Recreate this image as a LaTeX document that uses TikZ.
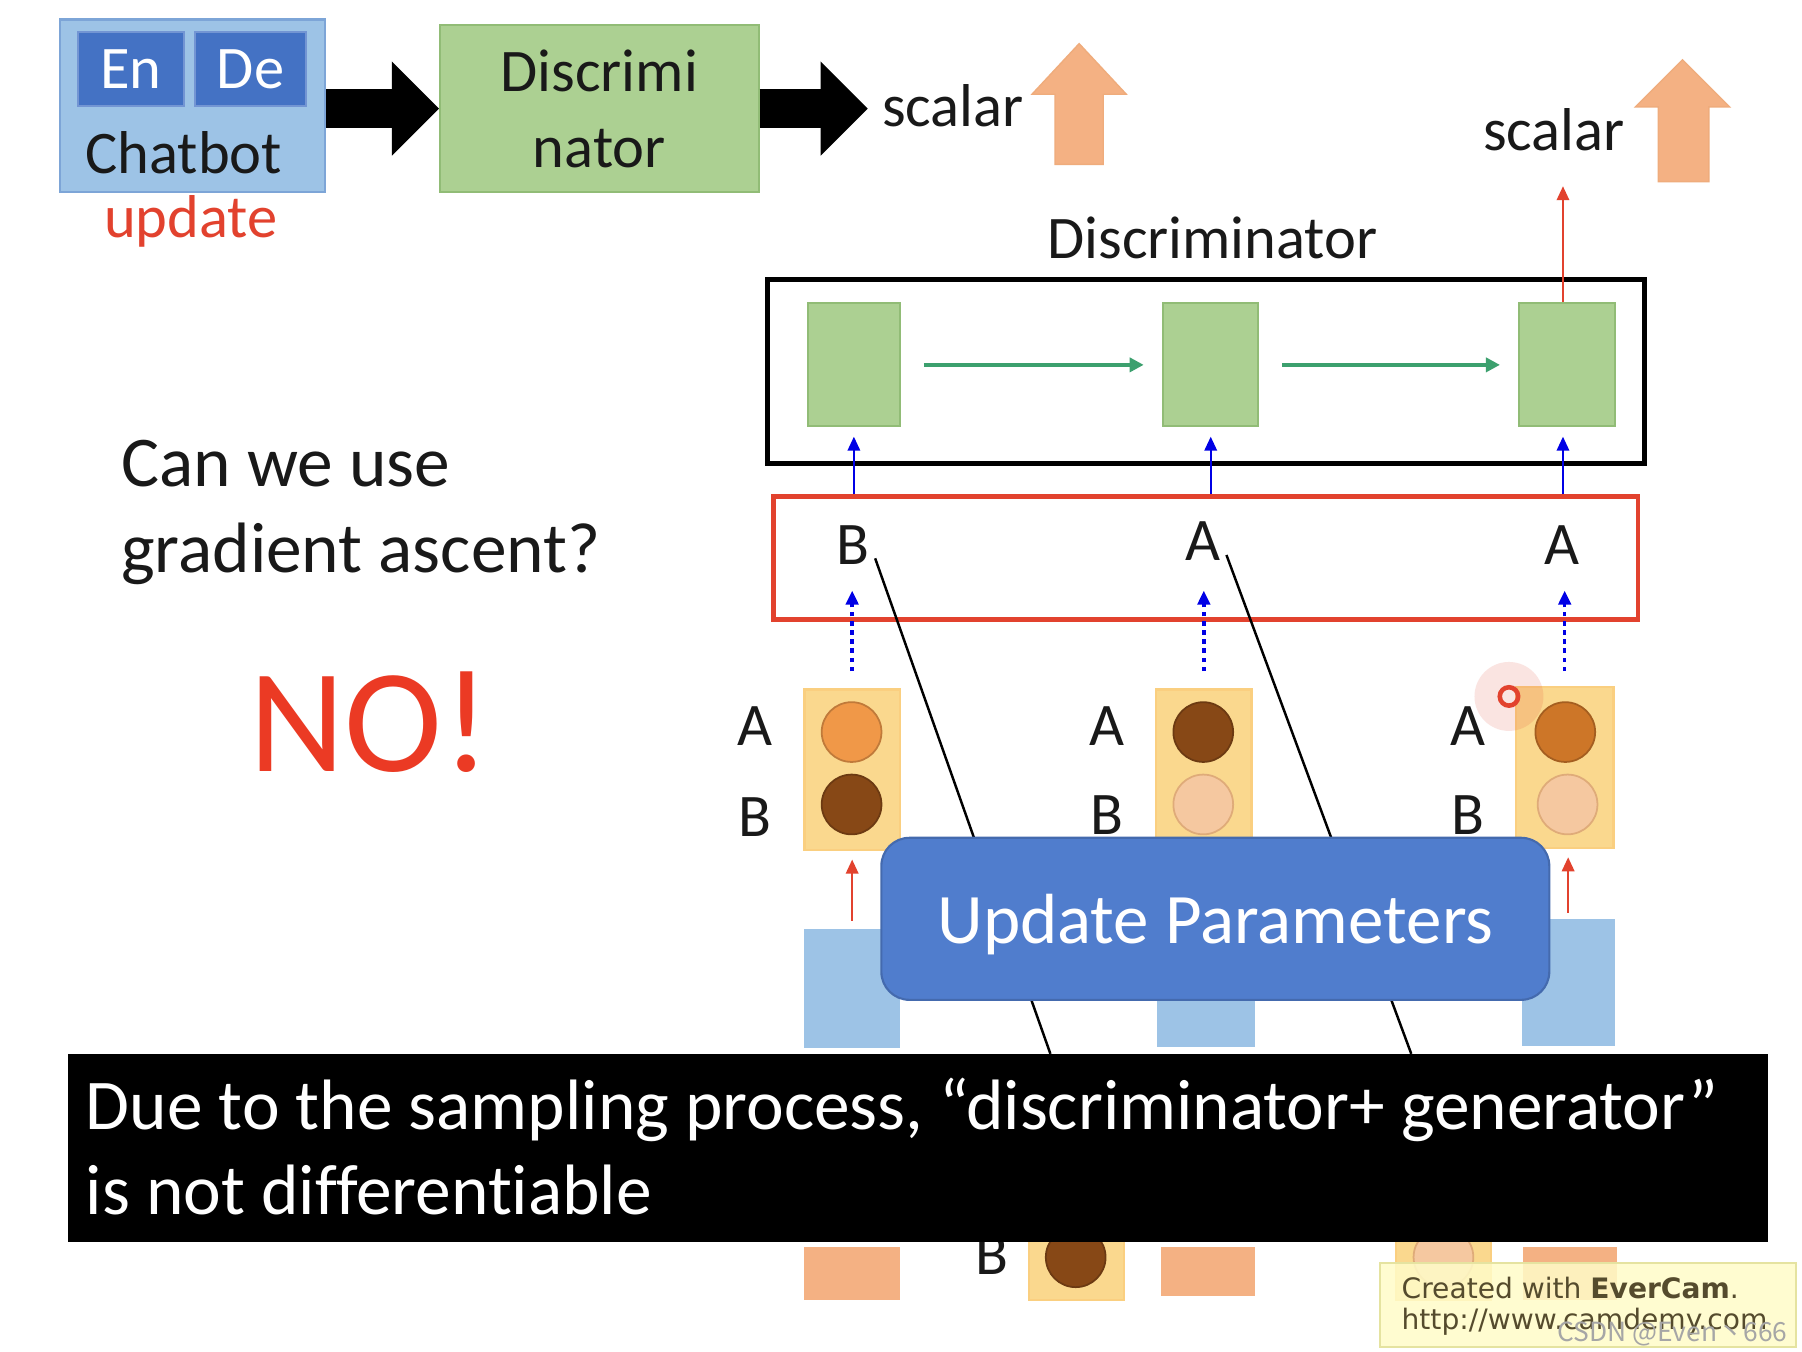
\documentclass[tikz,border=0pt]{standalone}
\usepackage{fontspec}
\setmainfont{Carlito}[Ligatures=NoCommon]
\newfontfamily\camfont{DejaVu Sans}
\newfontfamily\cjkfont{Noto Sans CJK SC}
\usetikzlibrary{arrows.meta,positioning,fit,calc}

\definecolor{txt}{RGB}{25,25,25}
\definecolor{chatblue}{RGB}{157,195,230}
\definecolor{chatedge}{RGB}{125,165,215}
\definecolor{endeblue}{RGB}{68,114,196}
\definecolor{discgreen}{RGB}{172,208,146}
\definecolor{discedge}{RGB}{145,188,118}
\definecolor{peach}{RGB}{244,177,131}
\definecolor{sampyel}{RGB}{250,216,142}
\definecolor{ballorange}{RGB}{240,152,72}
\definecolor{ballbrown}{RGB}{135,72,22}
\definecolor{ballmid}{RGB}{205,118,40}
\definecolor{ballpale}{RGB}{245,200,160}
\definecolor{slidered}{RGB}{226,66,46}
\definecolor{nored}{RGB}{235,58,36}
\definecolor{arrgreen}{RGB}{60,160,110}
\definecolor{updblue}{RGB}{80,125,205}
\definecolor{camyel}{RGB}{255,252,200}
\definecolor{camtxt}{RGB}{85,75,45}

\begin{document}
\begin{tikzpicture}[
    x=0.0114923cm, y=-0.0114923cm,
    every node/.style={font=\fontsize{17.2}{21}\selectfont, text=txt},
    box/.style={inner sep=0pt, line width=0.6pt},
    cell/.style={box, fill=discgreen, draw=discedge},
    sampbox/.style={box, fill=sampyel, draw=sampyel!90!orange},
    ball/.style={circle, minimum size=17pt, inner sep=0pt, line width=0.5pt},
    blockarr/.style={line width=11.1pt, -{Triangle[length=13.4pt, width=26.8pt, line width=0pt]}},
    garr/.style={arrgreen, line width=1pt, -{Triangle[length=4pt, width=4pt]}, shorten <=6.5pt, shorten >=5.2pt},
    barr/.style={blue!90!black, line width=0.7pt, -{Triangle[length=4pt, width=3.5pt]}},
    darr/.style={barr, line width=1pt, dash pattern=on 1.3pt off 1.3pt},
    rarr/.style={slidered, line width=0.7pt, -{Triangle[length=4pt, width=3.5pt]}},
]
    \useasboundingbox[fill=white] (0,0) rectangle (1568,1176);

    % Chatbot
    \node[box, fill=chatblue, draw=chatedge, fit={(52,17)(283,167)}] (chat) {};
    \node[box, fill=endeblue, draw=endeblue!75!white, text=white, minimum width=30.1pt, minimum height=20.9pt] (en) at (114,60) {En};
    \node[box, fill=endeblue, draw=endeblue!75!white, text=white, minimum width=31.4pt, minimum height=20.9pt] (de) at (218,60) {De};
    \node (chatlbl) at (160,133) {Chatbot};
    \node[text=slidered] (upd) at (166,193) {update};

    % Discriminator (top)
    \node[box, fill=discgreen, draw=discedge, align=center, font=\fontsize{17.2}{21.6}\selectfont, minimum width=90.6pt, minimum height=47.4pt] (disc) at (521.5,94.5) {Discrimi\\nator};
    \node[anchor=west, inner sep=0pt] (sc1) at (767,92) {scalar};
    \draw[blockarr] (chat.east |- disc.west) -- (disc.west);
    \draw[blockarr] (disc.east) -- ($(disc.east -| sc1.west)+(-12,0)$);
    \fill[peach, draw=peach!90!brown, line width=0.4pt] (918,143) -- (918,82) -- (898,82) -- (939,38) -- (980,82) -- (960,82) -- (960,143) -- cycle;

    % Question
    \node[anchor=base west, align=left, inner sep=0pt, font=\fontsize{20.3}{24.5}\selectfont] (ask) at (105,498) {Can we use\\gradient ascent?};
    \node[text=nored, font=\fontsize{42}{50}\selectfont] (no) at (322,628) {NO!};

    % Discriminator (unrolled)
    \node (dlbl) at (1055,207) {Discriminator};
    \node[anchor=west, inner sep=0pt] (sc2) at (1290,113) {scalar};
    \fill[peach, draw=peach!90!brown, line width=0.4pt] (1443,158) -- (1443,93) -- (1423,93) -- (1464,52) -- (1505,93) -- (1487,93) -- (1487,158) -- cycle;
    \node[box, draw=black, line width=1.4pt, fit={(668,243)(1431,403)}] (dbox) {};
    \node[cell, fit={(703,264)(783,371)}] (g1) {};
    \node[cell, fit={(1012,264)(1095,371)}] (g2) {};
    \node[cell, fit={(1322,264)(1405,371)}] (g3) {};
    \draw[garr] (g1) -- (g2);
    \draw[garr] (g2) -- (g3);
    \coordinate (out) at (1360,162);
    \draw[rarr] (g3.north -| out) -- (out);

    % Sampled tokens
    \node[box, draw=slidered, line width=1.2pt, fit={(673,432)(1425,539)}] (rbox) {};
    \node (s1) at (742,474) {B};
    \node (s2) at (1047,471) {A};
    \node (s3) at (1359,474) {A};
    \draw[barr] (g1.south |- rbox.north) -- ($(g1.south)+(0,8)$);
    \draw[barr] (g2.south |- rbox.north) -- ($(g2.south)+(0,8)$);
    \draw[barr] (out |- rbox.north) -- ($(out |- g3.south)+(0,8)$);

    % Generator outputs
    \node[box, fill=chatblue, fit={(700,808)(783,912)}] (h1) {};
    \node[box, fill=chatblue, fit={(1007,806)(1092,911)}] (h2) {};
    \node[box, fill=chatblue, fit={(1324,800)(1405,910)}] (h3) {};
    \node[sampbox, fit={(700,600)(783,740)}] (y1) {};
    \node[sampbox, fit={(1006,600)(1089,738)}] (y2) {};
    \node[sampbox, fit={(1319,598)(1404,738)}] (y3) {};
    \node[ball, fill=ballorange, draw=ballorange!80!black] (a1) at (741,637) {};
    \node[ball, fill=ballbrown, draw=ballbrown!80!black] (b1) at (741,700) {};
    \node[ball, fill=ballbrown, draw=ballbrown!80!black] (a2) at (1047,637) {};
    \node[ball, fill=ballpale, draw=ballpale!60!brown] (b2) at (1047,700) {};
    \node[ball, fill=ballmid, draw=ballmid!80!black] (a3) at (1362,637) {};
    \node[ball, fill=ballpale, draw=ballpale!60!brown] (b3) at (1364,700) {};
    \node (la1) at (657,632) {A};
    \node (lb1) at (657,711) {B};
    \node (la2) at (963,632) {A};
    \node (lb2) at (963,709) {B};
    \node (la3) at (1277,632) {A};
    \node (lb3) at (1277,709) {B};
    \draw[darr] ($(y1.north)+(0,-15)$) -- ($(y1.north |- rbox.south)+(0,-27)$);
    \draw[darr] ($(y2.north)+(0,-15)$) -- ($(y2.north |- rbox.south)+(0,-27)$);
    \draw[darr] ($(y3.north)+(0,-13)$) -- ($(y3.north |- rbox.south)+(0,-27)$);
    \draw[rarr] ($(h1.north)+(0,-6)$) -- ($(h1.north |- y1.south)+(0,7)$);
    \draw[rarr] ($(h3.north)+(0,-5)$) -- ($(h3.north |- y3.south)+(0,7)$);

    % cursor
    \fill[slidered, opacity=0.14] (1313,606) circle (30);
    \draw[slidered, line width=1.3pt] (1313,606) circle (8);

    % Next step
    \node[box, fill=peach, fit={(700,1085)(783,1131)}] (p1) {};
    \node[sampbox, fit={(895,1060)(978,1131)}] (y4) {};
    \node[ball, fill=ballbrown, draw=ballbrown!80!black] (b4) at (936,1094) {};
    \node (lb4) at (863,1092) {B};
    \node[box, fill=peach, fit={(1010,1085)(1092,1128)}] (p2) {};
    \node[sampbox, fit={(1215,1060)(1297,1131)}] (y5) {};
    \node[ball, fill=ballpale, draw=ballpale!60!brown] (b5) at (1256,1094) {};
    \node[box, fill=peach, fit={(1325,1085)(1407,1131)}] (p3) {};

    \coordinate (t1) at (914,917);
    \coordinate (t2) at (1228,917);
    \draw[line width=0.7pt, shorten <=-5.5pt] (s1.south east) -- (t1);
    \draw[line width=0.7pt, shorten <=-5.5pt] (s2.south east) -- (t2);

    % Update Parameters
    \node[box, fill=updblue, draw=updblue!85!black, rounded corners=8pt, text=white, text depth=0pt, font=\fontsize{20.2}{24}\selectfont, minimum width=190pt, minimum height=46.1pt] (updp) at (1057.5,799.5) {Update Parameters};

    % Caption bar
    \node[box, fill=black, fit={(59,917)(1538,1081)}] (bar) {};
    \node[anchor=base west, align=left, inner sep=0pt, text=white, font=\fontsize{20.3}{24.2}\selectfont] (bartxt) at (74,1057) {Due to the sampling process, “discriminator+ generator”\\is not differentiable};

    % watermarks
    \node[box, fill=camyel, fill opacity=0.85, draw=camyel!80!olive, fit={(1201,1099)(1563,1172)}] (cam) {};
    \node[anchor=west, inner sep=0pt, text=camtxt, font=\camfont\fontsize{8}{9}\selectfont] (cam1) at (1219,1121) {Created with \textbf{EverCam}.};
    \node[anchor=west, inner sep=0pt, text=camtxt, font=\camfont\fontsize{8}{9}\selectfont] (cam2) at (1219,1150) {http://www.camdemy.com};
    \node[anchor=east, inner sep=0pt, text=gray!70, font=\cjkfont\fontsize{7.5}{9}\selectfont] (csdn) at (1556,1161) {CSDN @Even丶666};
\end{tikzpicture}
\end{document}
